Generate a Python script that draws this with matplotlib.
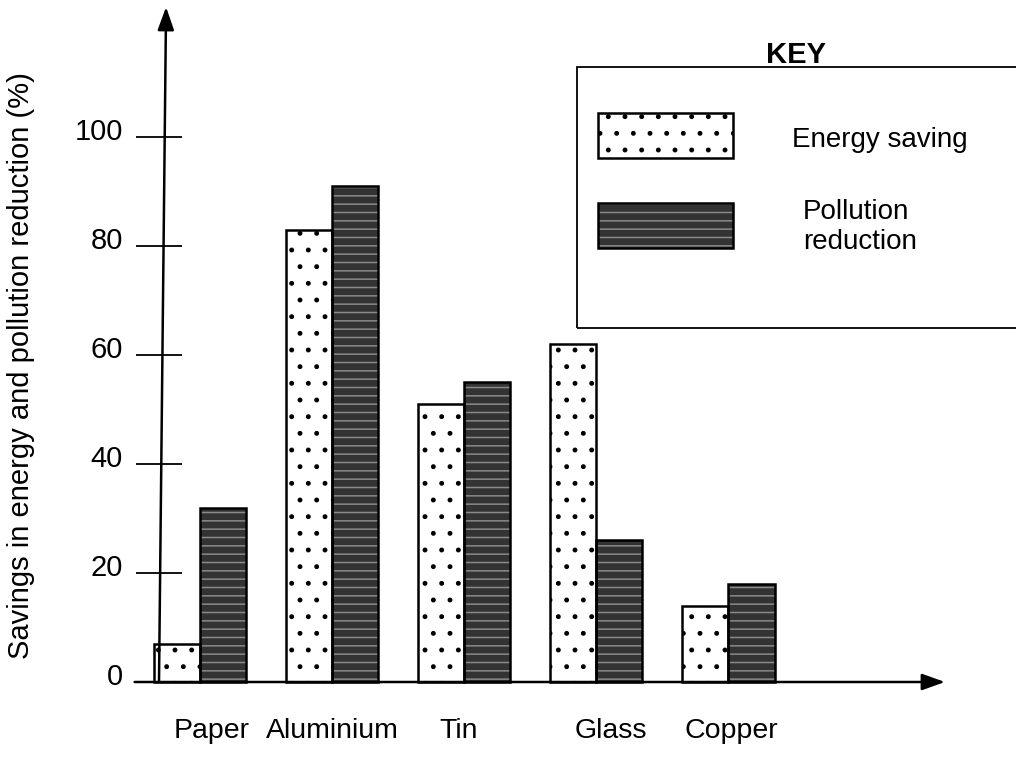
import numpy as np
import matplotlib
matplotlib.use("Agg")
import matplotlib.pyplot as plt
from matplotlib.patches import Rectangle
from matplotlib.transforms import ScaledTranslation, blended_transform_factory

# --- data ---
materials = ["Paper", "Aluminium", "Tin", "Glass", "Copper"]
energy_saving = [7, 83, 51, 62, 14]
pollution_reduction = [32, 91, 55, 26, 18]
y_ticks = [0, 20, 40, 60, 80, 100]

# small horizontal nudges for the category names (in group units)
label_shift = [0.09, 0.0, -0.04, 0.11, 0.02]

plt.rcParams["font.family"] = ["Liberation Sans", "DejaVu Sans"]
plt.rcParams["hatch.linewidth"] = 1.1

W, H = 1016, 761
fig = plt.figure(figsize=(W / 100, H / 100), dpi=100)
# axes box in pixels: y-axis at x=159, arrow tip at x=945, baseline y=682, top arrow y=7
ax = fig.add_axes([159 / W, 1 - 682 / H, (945 - 159) / W, (682 - 7) / H])

x = np.arange(len(materials))
bw = 0.35

energy_face = dict(color="white", edgecolor="black", hatch=".", linewidth=0, clip_on=False)
pollution_face = dict(color="#333333", edgecolor="#8a8a8a", hatch="--", linewidth=0, clip_on=False)
outline = dict(fill=False, edgecolor="black", linewidth=1.8, clip_on=False)

ax.bar(x - bw / 2, energy_saving, bw, **energy_face)
ax.bar(x + bw / 2, pollution_reduction, bw, **pollution_face)
ax.bar(x - bw / 2, energy_saving, bw, **outline)
ax.bar(x + bw / 2, pollution_reduction, bw, **outline)

ax.set_xlim(-0.31, 5.64)
ax.set_ylim(0, 123.9)

for s in ax.spines.values():
    s.set_visible(False)

# y ticks cross the axis; labels drawn by hand so they can sit a little high
ax.set_yticks(y_ticks)
ax.tick_params(axis="y", direction="inout", length=33, width=1.3, labelleft=False)
ax.set_xticks([])
lab_tr = blended_transform_factory(ax.transAxes, ax.transData) + ScaledTranslation(0, 0.05, fig.dpi_scale_trans)
for v in y_ticks:
    ax.text(-0.046, v, str(v), transform=lab_tr, ha="right", va="center", fontsize=21)

# category names under the axis
name_tr = blended_transform_factory(ax.transData, ax.transAxes) + ScaledTranslation(0, -0.56, fig.dpi_scale_trans)
for i, name in enumerate(materials):
    ax.text(x[i] + label_shift[i], 0, name, transform=name_tr, ha="center", va="baseline", fontsize=20.5)

# axis arrows
head = "-|>,head_length=14,head_width=5"
ax.annotate("", xy=(0.009, 1), xytext=(0, 0), xycoords="axes fraction",
            arrowprops=dict(arrowstyle=head, color="black", lw=1.8, shrinkA=0, shrinkB=0,
                            mutation_scale=1), annotation_clip=False)
ax.annotate("", xy=(1, 0), xytext=(-0.031, 0), xycoords="axes fraction",
            arrowprops=dict(arrowstyle=head, color="black", lw=1.8, shrinkA=0, shrinkB=0,
                            mutation_scale=1), annotation_clip=False)

fig.text(0.021, 1 - 366 / H, "Savings in energy and pollution reduction (%)",
         rotation=90, ha="center", va="center", fontsize=21)


# --- key box ---
def px_rect(x0, y0, x1, y1, **kw):
    r = Rectangle((x0 / W, 1 - y1 / H), (x1 - x0) / W, (y1 - y0) / H,
                  transform=fig.transFigure, **kw)
    fig.add_artist(r)


px_rect(577, 67, 1040, 328, fill=False, edgecolor="black", linewidth=1.3)
fig.text(796 / W, 1 - 55 / H, "KEY", ha="center", va="center", fontsize=21, fontweight="bold")

px_rect(598, 113, 733, 158, facecolor="white", edgecolor="black", hatch=".", linewidth=0)
px_rect(598, 113, 733, 158, fill=False, edgecolor="black", linewidth=1.8)
px_rect(598, 203, 733, 248, facecolor="#333333", edgecolor="#8a8a8a", hatch="--", linewidth=0)
px_rect(598, 203, 733, 248, fill=False, edgecolor="black", linewidth=1.8)

fig.text(792 / W, 1 - 140 / H, "Energy saving", ha="left", va="center", fontsize=20)
fig.text(803 / W, 1 - 227 / H, "Pollution\nreduction", ha="left", va="center", fontsize=20,
         linespacing=1.2)

fig.savefig("out.png", dpi=100)
